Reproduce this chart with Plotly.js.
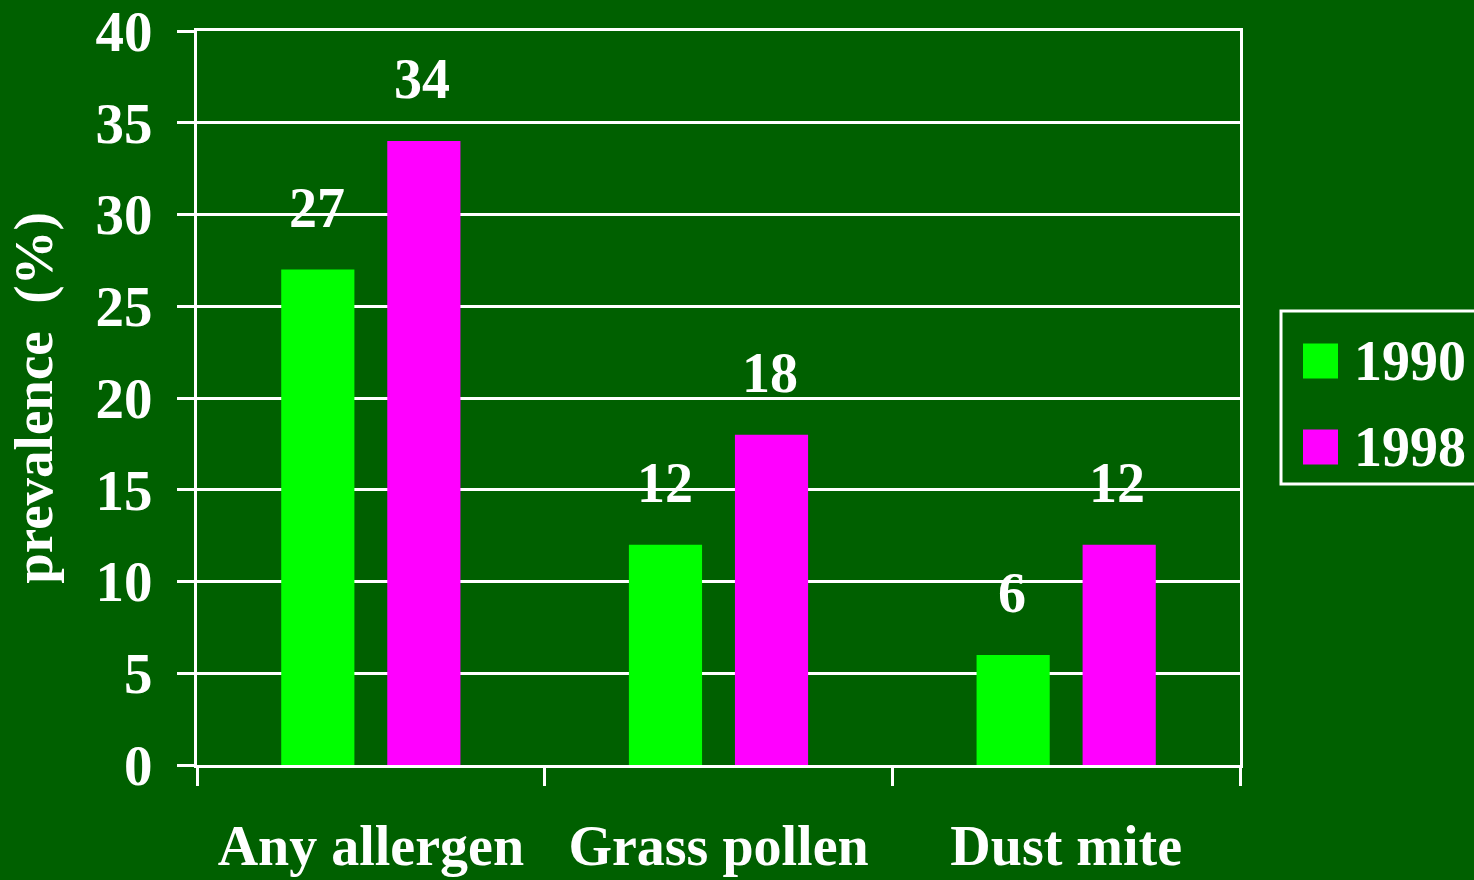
<!DOCTYPE html>
<html>
<head>
<meta charset="utf-8">
<script src="https://cdn.plot.ly/plotly-3.0.1.min.js"></script>
<style>html,body{margin:0;padding:0;background:#006000;}#chart{width:1474px;height:880px;}</style>
</head>
<body>
<div id="chart"></div>
<script>
const categories = ["Any allergen", "Grass pollen", "Dust mite"];
const seriesNames = ["1990", "1998"];
const values1990 = [27, 12, 6];
const values1998 = [34, 18, 12];
const seriesColors = ["#00ff00", "#ff00ff"];
const yTitle = "prevalence&nbsp;&nbsp;(%)";

const W = 1474, H = 880;
const M = {l: 197, r: 234, t: 31, b: 115};
const PW = W - M.l - M.r, PH = H - M.t - M.b;
const px = x => (x - M.l) / PW;
const py = y => (H - M.b - y) / PH;

const FONT = "Liberation Serif, Times New Roman, serif";
const white = "#ffffff";
const bigFont = {family: FONT, size: 56, color: white, weight: "bold"};

const seriesValues = [values1990, values1998];
const traces = seriesValues.map((vals, i) => ({
  type: "bar",
  x: categories,
  y: vals,
  name: seriesNames[i],
  marker: {color: seriesColors[i], line: {width: 0}},
  hoverinfo: "skip"
}));

const annotations = [];
seriesValues.forEach((vals, i) => {
  vals.forEach((v, j) => {
    annotations.push({
      x: categories[j], y: v, xref: "x", yref: "y",
      text: String(v), showarrow: false,
      xshift: i === 0 ? -54 : 51,
      yanchor: "bottom", yshift: 29,
      font: bigFont
    });
  });
});

// custom legend
const shapes = [
  {type: "rect", xref: "paper", yref: "paper",
   x0: px(1281), x1: px(1480), y0: py(484), y1: py(311),
   line: {color: white, width: 3}, fillcolor: "rgba(0,0,0,0)"}
];
const legendRows = [361, 447];
seriesNames.forEach((n, i) => {
  const cy = legendRows[i];
  shapes.push({type: "rect", xref: "paper", yref: "paper",
    x0: px(1303), x1: px(1338), y0: py(cy + 17.5), y1: py(cy - 17.5),
    line: {width: 0}, fillcolor: seriesColors[i]});
  annotations.push({xref: "paper", yref: "paper", x: px(1352), y: py(cy),
    xanchor: "left", yanchor: "middle", text: n, showarrow: false, font: bigFont});
});

const layout = {
  width: W, height: H,
  margin: M,
  paper_bgcolor: "#006000",
  plot_bgcolor: "#006000",
  showlegend: false,
  barmode: "group",
  bargap: 0.39,
  bargroupgap: 0.31,
  font: {family: FONT, color: white},
  xaxis: {
    type: "category",
    showline: true, linecolor: white, linewidth: 3, mirror: true,
    ticks: "outside", tickson: "boundaries", ticklen: 18, tickwidth: 3, tickcolor: white,
    tickfont: {family: FONT, size: 56, color: white, weight: "bold"},
    ticklabelstandoff: 30,
    ticklabeloverflow: "allow",
    showgrid: false, zeroline: false
  },
  yaxis: {
    range: [0, 40], dtick: 5, tick0: 0,
    showline: true, linecolor: white, linewidth: 3, mirror: true,
    ticks: "outside", ticklen: 17, tickwidth: 3, tickcolor: white,
    tickfont: {family: FONT, size: 57, color: white, weight: "bold"},
    ticklabelstandoff: 13,
    ticklabeloverflow: "allow",
    showgrid: true, gridcolor: white, gridwidth: 3,
    zeroline: false,
    title: {text: yTitle, font: {family: FONT, size: 55, color: white, weight: "bold"}, standoff: 26}
  },
  annotations: annotations,
  shapes: shapes
};

Plotly.newPlot("chart", traces, layout, {displayModeBar: false, staticPlot: true});
</script>
</body>
</html>
